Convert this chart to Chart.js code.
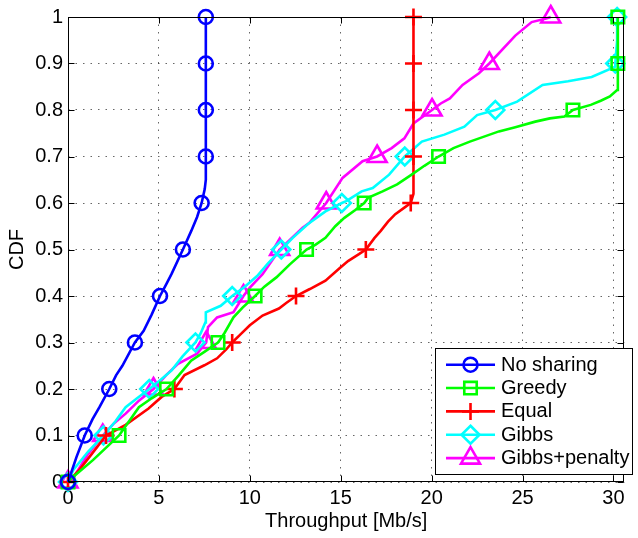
<!DOCTYPE html>
<html><head><meta charset="utf-8">
<script src="https://cdn.jsdelivr.net/npm/chart.js@4.4.0/dist/chart.umd.min.js"></script>
<style>html,body{margin:0;padding:0;background:#fff;}canvas{display:block;}</style>
</head><body>
<canvas id="c" width="638" height="538"></canvas>
<script>
// ---- data ----
const cdfLevels = [0,0.1,0.2,0.3,0.4,0.5,0.6,0.7,0.8,0.9,1];
const xTickValues = [0,5,10,15,20,25,30];
const yTickValues = [0,0.1,0.2,0.3,0.4,0.5,0.6,0.7,0.8,0.9,1];
const seriesNames = ['No sharing','Greedy','Equal','Gibbs','Gibbs+penalty'];

const noSharingX = [0,0.47,0.92,1.35,1.73,2.27,2.65,2.99,3.68,4.16,4.6,5.06,5.4,5.69,6.32,6.78,7.1,7.35,7.52,7.58,7.58];
const noSharingY = [0,0.054,0.1,0.135,0.161,0.2,0.23,0.25,0.3,0.325,0.36,0.4,0.425,0.447,0.5,0.54,0.57,0.6,0.63,0.65,1.0];
const noSharingMarkX = [0,0.92,2.27,3.68,5.06,6.32,7.35,7.58,7.58,7.58,7.58];

const greedyX = [0,0.1,1.37,2.81,3.9,4.6,5.42,6.1,6.77,7.5,8.25,8.6,9.1,9.6,10.29,10.8,11.46,12.2,13.12,13.6,14.16,14.7,15.2,15.8,16.29,16.5,17.3,18.1,18.9,19.6,20.38,21.2,22.1,23.7,24.6,25.7,26.5,27.3,27.77,28.75,29.3,29.8,30.2,30.24,30.24];
const greedyY = [0,0.005,0.047,0.1,0.161,0.18,0.2,0.23,0.261,0.28,0.3,0.32,0.354,0.375,0.4,0.42,0.44,0.468,0.5,0.51,0.525,0.55,0.568,0.585,0.6,0.611,0.625,0.64,0.661,0.68,0.7,0.718,0.732,0.754,0.763,0.775,0.782,0.786,0.8,0.811,0.82,0.829,0.843,0.9,1.0];
const greedyMarkX = [0,2.81,5.42,8.25,10.29,13.12,16.29,20.38,27.77,30.24,30.24];

const equalX = [0,0.6,1.3,2.09,3.17,4.43,5.15,5.85,6.41,7.5,8.2,8.7,9.03,9.5,10.0,10.7,11.6,12.0,12.54,13.3,14.16,14.95,15.4,16.0,16.38,16.86,17.2,17.6,18.0,18.5,18.85,19.0,19.0];
const equalY = [0,0.025,0.06,0.1,0.123,0.158,0.183,0.2,0.23,0.251,0.266,0.285,0.3,0.318,0.337,0.358,0.373,0.385,0.4,0.415,0.433,0.46,0.475,0.49,0.5,0.525,0.54,0.56,0.576,0.59,0.6,0.62,1.0];
const equalMarkX = [0,2.09,5.85,9.03,12.54,16.38,18.85,19.0,19.0,19.0,19.0];

const gibbsX = [0,0.29,1.1,1.95,2.6,3.17,3.8,4.47,5.1,5.7,6.3,7.01,7.3,7.55,7.58,8.4,9.03,9.66,10.4,11.0,11.73,12.36,13.2,14.16,15.06,15.3,16.15,16.76,17.66,18.52,19.46,20.7,21.8,22.5,23.5,24.7,26.1,27.5,28.8,30.1,30.2,30.2];
const gibbsY = [0,0.026,0.065,0.1,0.13,0.161,0.18,0.2,0.22,0.24,0.27,0.3,0.32,0.343,0.365,0.379,0.4,0.418,0.443,0.47,0.5,0.525,0.555,0.582,0.6,0.604,0.625,0.632,0.661,0.7,0.732,0.747,0.764,0.789,0.8,0.818,0.854,0.862,0.871,0.893,0.95,1.0];
const gibbsMarkX = [0,1.95,4.47,7.01,9.03,11.73,15.06,18.52,23.5,30.1,30.2];

const penaltyX = [0,0.3,1.1,1.91,2.5,3.17,3.9,4.7,5.4,6.05,7.1,7.6,7.7,8.2,9.1,9.65,10.0,10.7,11.64,12.9,13.26,14.2,15.1,16.2,17.0,17.8,18.5,19.0,20.02,20.5,21.0,21.7,22.6,23.17,24.6,25.5,26.3,26.55];
const penaltyY = [0,0.01,0.06,0.1,0.125,0.147,0.175,0.2,0.23,0.254,0.276,0.3,0.333,0.354,0.365,0.4,0.418,0.447,0.5,0.547,0.557,0.6,0.654,0.69,0.7,0.718,0.739,0.771,0.8,0.814,0.825,0.854,0.879,0.9,0.96,0.989,0.997,1.0];
const penaltyMarkX = [0,1.91,4.7,7.6,9.65,11.64,14.2,17.0,20.02,23.17,26.55];

// ---- styles ----
const colors = ['#0000ff','#00ff00','#ff0000','#00ffff','#ff00ff'];
const markerStyles = ['circle','rect','cross','rectRot','triangle'];
const markerRadii = [7,8.8,8.5,9,11];
const FONT = '"Liberation Sans", Arial, Helvetica, sans-serif';

function buildPoints(cx, cy, mx) {
  const pts = cx.map((x, i) => ({x: x, y: cy[i], m: false}));
  mx.forEach((x, i) => pts.push({x: x, y: cdfLevels[i], m: true}));
  pts.sort((a, b) => (a.y - b.y) || (a.x - b.x));
  return pts;
}
const curves = [
  [noSharingX, noSharingY, noSharingMarkX],
  [greedyX, greedyY, greedyMarkX],
  [equalX, equalY, equalMarkX],
  [gibbsX, gibbsY, gibbsMarkX],
  [penaltyX, penaltyY, penaltyMarkX]
];
const datasets = curves.map((c, i) => ({
  label: seriesNames[i],
  data: buildPoints(c[0], c[1], c[2]),
  borderColor: colors[i],
  backgroundColor: colors[i],
  borderWidth: 2.6,
  pointStyle: markerStyles[i],
  pointRadius: ctx => (ctx.raw && ctx.raw.m) ? markerRadii[i] : 0,
  pointHoverRadius: 0,
  pointBorderColor: colors[i],
  pointBackgroundColor: 'rgba(0,0,0,0)',
  pointBorderWidth: 2.6,
  tension: 0,
  fill: false,
  clip: false
}));

function drawMarker(ctx, style, x, y, r) {
  ctx.beginPath();
  if (style === 'circle') {
    ctx.arc(x, y, r, 0, Math.PI * 2);
  } else if (style === 'rect') {
    const s = r * Math.SQRT1_2;
    ctx.rect(x - s, y - s, 2 * s, 2 * s);
  } else if (style === 'cross') {
    ctx.moveTo(x, y - r); ctx.lineTo(x, y + r);
    ctx.moveTo(x - r, y); ctx.lineTo(x + r, y);
  } else if (style === 'rectRot') {
    ctx.moveTo(x, y - r); ctx.lineTo(x + r, y); ctx.lineTo(x, y + r); ctx.lineTo(x - r, y); ctx.closePath();
  } else if (style === 'triangle') {
    let a = 0;
    ctx.moveTo(x + Math.sin(a) * r, y - Math.cos(a) * r);
    a += 2 * Math.PI / 3; ctx.lineTo(x + Math.sin(a) * r, y - Math.cos(a) * r);
    a += 2 * Math.PI / 3; ctx.lineTo(x + Math.sin(a) * r, y - Math.cos(a) * r);
    ctx.closePath();
  }
  ctx.stroke();
}

const framePlugin = {
  id: 'frame',
  afterDatasetsDraw(chart) {
    const ctx = chart.ctx;
    const a = chart.chartArea;
    const xs = chart.scales.x, ys = chart.scales.y;
    ctx.save();
    ctx.strokeStyle = '#000';
    ctx.lineWidth = 1;
    const L = Math.round(a.left) + 0.5, R = Math.round(a.right) - 0.5;
    const T = Math.round(a.top) + 0.5, B = Math.round(a.bottom) - 0.5;
    ctx.strokeRect(L, T, R - L, B - T);
    const tl = 6;
    ctx.beginPath();
    xTickValues.forEach(v => {
      const px = Math.round(xs.getPixelForValue(v)) + 0.5;
      ctx.moveTo(px, B); ctx.lineTo(px, B - tl);
      ctx.moveTo(px, T); ctx.lineTo(px, T + tl);
    });
    yTickValues.forEach(v => {
      const py = Math.round(ys.getPixelForValue(v)) + 0.5;
      ctx.moveTo(L, py); ctx.lineTo(L + tl, py);
      ctx.moveTo(R, py); ctx.lineTo(R - tl, py);
    });
    ctx.stroke();

    // legend box inside the axes (lower right)
    const bx = 435.5, by = 348.5, bw = 197, bh = 126;
    ctx.fillStyle = '#fff';
    ctx.fillRect(bx, by, bw, bh);
    ctx.strokeStyle = '#000';
    ctx.lineWidth = 1;
    ctx.strokeRect(bx, by, bw, bh);
    ctx.font = '20px ' + FONT;
    ctx.textBaseline = 'middle';
    ctx.textAlign = 'left';
    chart.data.datasets.forEach((ds, i) => {
      const y = 364.7 + i * 23.35;
      ctx.strokeStyle = colors[i];
      ctx.lineWidth = 2.6;
      ctx.beginPath();
      ctx.moveTo(446, y); ctx.lineTo(495, y);
      ctx.stroke();
      drawMarker(ctx, markerStyles[i], 470.5, y, markerRadii[i]);
      ctx.fillStyle = '#000';
      ctx.fillText(ds.label, 501, y + 0.5);
    });
    ctx.restore();
  }
};

new Chart(document.getElementById('c'), {
  type: 'line',
  data: { datasets: datasets },
  plugins: [framePlugin],
  options: {
    responsive: false,
    animation: false,
    devicePixelRatio: 1,
    events: [],
    layout: { padding: { left: 0, top: 15, right: 4, bottom: 0 } },
    plugins: { legend: { display: false }, tooltip: { enabled: false } },
    scales: {
      x: {
        type: 'linear', min: 0, max: 30.6,
        afterBuildTicks: s => { s.ticks = xTickValues.map(v => ({value: v})); },
        afterFit: s => { s.height = 56; },
        ticks: { autoSkip: false, maxRotation: 0, padding: 4, color: '#000',
                 font: { family: FONT, size: 20 }, callback: v => String(v) },
        grid: { color: 'rgba(0,0,0,0.6)', lineWidth: 1, drawTicks: false },
        border: { display: false, dash: [1.5, 6] },
        title: { display: true, text: 'Throughput [Mb/s]', color: '#000',
                 font: { family: FONT, size: 20 }, padding: { top: 0, bottom: 5 } }
      },
      y: {
        type: 'linear', min: 0, max: 1,
        afterBuildTicks: s => { s.ticks = yTickValues.map(v => ({value: v})); },
        afterFit: s => { s.width = 68; },
        ticks: { autoSkip: false, padding: 5, color: '#000',
                 font: { family: FONT, size: 20 }, callback: v => String(+(+v).toFixed(1)) },
        grid: { color: 'rgba(0,0,0,0.6)', lineWidth: 1, drawTicks: false },
        border: { display: false, dash: [1.5, 6] },
        title: { display: true, text: 'CDF', color: '#000',
                 font: { family: FONT, size: 20 }, padding: { top: 5.5, bottom: 0 } }
      }
    }
  }
});
</script>
</body></html>
